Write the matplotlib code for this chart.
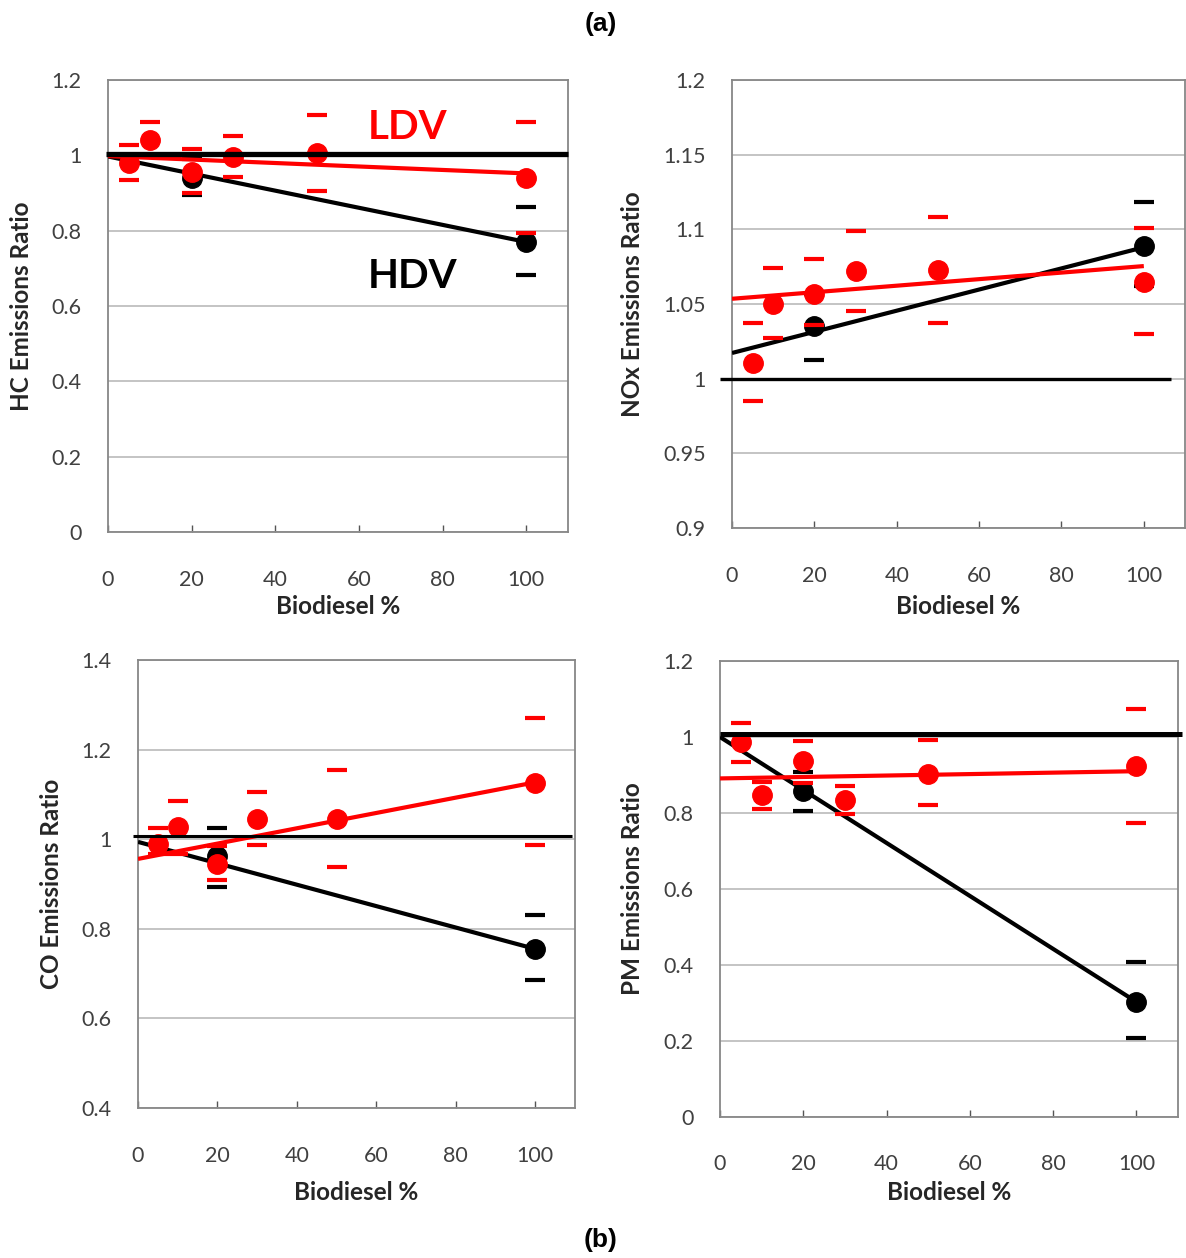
import matplotlib
matplotlib.use('Agg')
import matplotlib.pyplot as plt

plt.rcParams['font.family'] = ['Lato', 'DejaVu Sans']

# blend levels (biodiesel %)
x_ldv = [5, 10, 20, 30, 50, 100]
x_hdv = [20, 100]
fit_x = [0, 100]

# HC
hc_ldv = [0.979, 1.041, 0.957, 0.995, 1.005, 0.939]
hc_ldv_hi = [1.027, 1.089, 1.016, 1.05, 1.107, 1.089]
hc_ldv_lo = [0.935, 0.995, 0.901, 0.943, 0.904, 0.793]
hc_hdv = [0.94, 0.771]
hc_hdv_hi = [0.99, 0.864]
hc_hdv_lo = [0.895, 0.682]
hc_ldv_fit = [0.998, 0.952]
hc_hdv_fit = [0.997, 0.77]
hc_ref = 1.004

# NOx
nox_ldv = [1.0105, 1.050, 1.057, 1.072, 1.0725, 1.065]
nox_ldv_hi = [1.037, 1.074, 1.080, 1.099, 1.108, 1.101]
nox_ldv_lo = [0.985, 1.027, 1.036, 1.045, 1.037, 1.030]
nox_hdv = [1.035, 1.089]
nox_hdv_hi = [1.057, 1.118]
nox_hdv_lo = [1.0125, 1.062]
nox_ldv_fit = [1.0535, 1.0754]
nox_hdv_fit = [1.0172, 1.088]
nox_ref = 1.0

# CO
co_ldv = [0.990, 1.027, 0.945, 1.046, 1.046, 1.126]
co_ldv_hi = [1.025, 1.085, 0.984, 1.105, 1.154, 1.270]
co_ldv_lo = [0.967, 0.967, 0.908, 0.986, 0.938, 0.986]
co_hdv = [0.962, 0.755]
co_hdv_hi = [1.025, 0.831]
co_hdv_lo = [0.894, 0.686]
co_ldv_fit = [0.956, 1.127]
co_hdv_fit = [0.994, 0.755]
co_ref = 1.007

# PM
pm_ldv = [0.986, 0.847, 0.936, 0.833, 0.903, 0.923]
pm_ldv_hi = [1.037, 0.882, 0.989, 0.872, 0.991, 1.074]
pm_ldv_lo = [0.934, 0.811, 0.88, 0.797, 0.820, 0.775]
pm_hdv = [0.859, 0.303]
pm_hdv_hi = [0.907, 0.407]
pm_hdv_lo = [0.804, 0.207]
pm_ldv_fit = [0.891, 0.910]
pm_hdv_fit = [1.0, 0.303]
pm_ref = 1.008

x_ticks = [0, 20, 40, 60, 80, 100]
hc_yticks = [0, 0.2, 0.4, 0.6, 0.8, 1.0, 1.2]
hc_ylabels = ['0', '0.2', '0.4', '0.6', '0.8', '1', '1.2']
nox_yticks = [0.9, 0.95, 1.0, 1.05, 1.1, 1.15, 1.2]
nox_ylabels = ['0.9', '0.95', '1', '1.05', '1.1', '1.15', '1.2']
co_yticks = [0.4, 0.6, 0.8, 1.0, 1.2, 1.4]
co_ylabels = ['0.4', '0.6', '0.8', '1', '1.2', '1.4']
pm_yticks = hc_yticks
pm_ylabels = hc_ylabels

RED = '#FF0000'
GRID = '#BFBFBF'
SPINE = '#878787'
TXT = '#404040'

W, H = 1186, 1258
fig = plt.figure(figsize=(W / 100, H / 100), dpi=100)


def px_axes(left, top, right, bottom):
    return fig.add_axes([left / W, 1 - bottom / H, (right - left) / W, (bottom - top) / H])


def draw_panel(ax, ldv, ldv_hi, ldv_lo, hdv, hdv_hi, hdv_lo, ldv_fit, hdv_fit,
               ref, ref_span, ref_lw, yticks, ylabels, ylabel, ylab_x):
    ax.set_xlim(0, 110)
    ax.set_ylim(yticks[0], yticks[-1])
    ax.set_yticks(yticks)
    ax.set_yticklabels(ylabels)
    ax.set_xticks(x_ticks)
    ax.grid(axis='y', color=GRID, lw=1.3, zorder=0)
    ax.set_axisbelow(True)
    for s in ax.spines.values():
        s.set_color(SPINE)
        s.set_linewidth(1.3)
    ax.tick_params(axis='x', direction='in', length=5, width=1, color='#555555',
                   pad=27, labelsize=15.5, labelcolor=TXT)
    ax.tick_params(axis='y', length=0, pad=19, labelsize=15.5, labelcolor=TXT)

    # HDV
    ax.plot(fit_x, hdv_fit, color='black', lw=3, zorder=3, solid_capstyle='butt')
    ax.plot(x_hdv, hdv, 'o', color='black', ms=14, zorder=4)
    ax.plot(x_hdv, hdv_hi, '_', color='black', ms=14, mew=3, zorder=4)
    ax.plot(x_hdv, hdv_lo, '_', color='black', ms=14, mew=3, zorder=4)
    # LDV
    ax.plot(fit_x, ldv_fit, color=RED, lw=3, zorder=5, solid_capstyle='butt')
    ax.plot(x_ldv, ldv, 'o', color=RED, ms=14, zorder=6)
    ax.plot(x_ldv, ldv_hi, '_', color=RED, ms=14, mew=3, zorder=6)
    ax.plot(x_ldv, ldv_lo, '_', color=RED, ms=14, mew=3, zorder=6)
    # reference line at ratio 1
    ax.plot(ref_span, [ref, ref], color='black', lw=ref_lw, zorder=7, clip_on=False,
            solid_capstyle='butt')

    ax.set_xlabel('Biodiesel %', fontsize=17.5, fontweight='bold', color='#262626')
    ax.xaxis.label.set_va('center')
    ax.set_ylabel(ylabel, fontsize=17.5, fontweight='bold', color='#262626')
    ax.yaxis.label.set_va('center')
    ax.yaxis.set_label_coords(ylab_x, 0.5)


ax_hc = px_axes(108, 80, 568, 532)
draw_panel(ax_hc, hc_ldv, hc_ldv_hi, hc_ldv_lo, hc_hdv, hc_hdv_hi, hc_hdv_lo,
           hc_ldv_fit, hc_hdv_fit, hc_ref, [-0.5, 110], 3.8,
           hc_yticks, hc_ylabels, 'HC Emissions Ratio', (22 - 108) / 460)
ax_hc.xaxis.set_label_coords(0.5, -(606 - 532) / 452)
ax_hc.text(62, 1.075, 'LDV', color=RED, fontsize=29, fontweight='bold', va='center', ha='left')
ax_hc.text(62, 0.677, 'HDV', color='black', fontsize=29, fontweight='bold', va='center', ha='left')

ax_nox = px_axes(732, 80, 1185, 528)
draw_panel(ax_nox, nox_ldv, nox_ldv_hi, nox_ldv_lo, nox_hdv, nox_hdv_hi, nox_hdv_lo,
           nox_ldv_fit, nox_hdv_fit, nox_ref, [-3, 106.5], 2.4,
           nox_yticks, nox_ylabels, 'NOx Emissions Ratio', (632 - 732) / 453)
ax_nox.xaxis.set_label_coords(0.5, -(606 - 528) / 448)

ax_co = px_axes(138, 660, 575, 1108)
draw_panel(ax_co, co_ldv, co_ldv_hi, co_ldv_lo, co_hdv, co_hdv_hi, co_hdv_lo,
           co_ldv_fit, co_hdv_fit, co_ref, [-1.2, 109.3], 2.2,
           co_yticks, co_ylabels, 'CO Emissions Ratio', (52 - 138) / 437)
ax_co.xaxis.set_label_coords(0.5, -(1192 - 1108) / 448)

ax_pm = px_axes(720, 661, 1178, 1117)
draw_panel(ax_pm, pm_ldv, pm_ldv_hi, pm_ldv_lo, pm_hdv, pm_hdv_hi, pm_hdv_lo,
           pm_ldv_fit, pm_hdv_fit, pm_ref, [0, 111], 3.6,
           pm_yticks, pm_ylabels, 'PM Emissions Ratio', (632 - 720) / 458)
ax_pm.xaxis.set_label_coords(0.5, -(1193 - 1117) / 456)

fig.text(601 / W, 1 - 24 / H, '(a)', family='Liberation Sans', fontsize=19,
         fontweight='bold', ha='center', va='center')
fig.text(601 / W, 1 - 1240 / H, '(b)', family='Liberation Sans', fontsize=19,
         fontweight='bold', ha='center', va='center')

fig.savefig('out.png', dpi=100)
